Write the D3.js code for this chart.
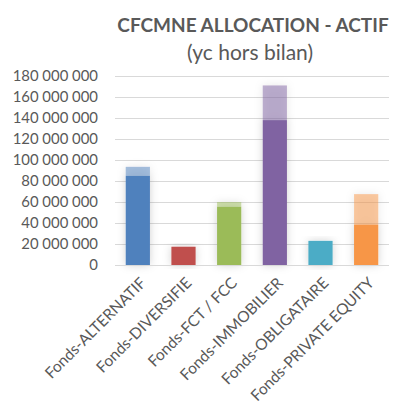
<!DOCTYPE html>
<html><head><meta charset="utf-8">
<script src="https://cdn.jsdelivr.net/npm/d3@7"></script>
<style>body{margin:0;background:#fff;} svg{display:block;font-family:Lato,"Open Sans",sans-serif;}</style>
</head><body>
<svg id="c" width="396" height="403"></svg>
<script>
const categories = ["Fonds-ALTERNATIF","Fonds-DIVERSIFIE","Fonds-FCT / FCC","Fonds-IMMOBILIER","Fonds-OBLIGATAIRE","Fonds-PRIVATE EQUITY"];
const actif = [85000000, 17400000, 55500000, 138000000, 23000000, 38500000];
const horsBilan = [8500000, 0, 4500000, 33000000, 0, 29000000];
const colors = ["#4F81BD","#C0504D","#9BBB59","#8064A2","#4BACC6","#F79646"];
const yTicks = [0,20000000,40000000,60000000,80000000,100000000,120000000,140000000,160000000,180000000];

const svg = d3.select("#c");
const x = d3.scaleBand().domain(categories).range([115,389]).paddingInner(0.47).paddingOuter(0.235);
const y = d3.scaleLinear().domain([0,180000000]).range([265,76]);

const defs = svg.append("defs");
const f = defs.append("filter").attr("id","sh").attr("x","-60%").attr("y","-20%").attr("width","220%").attr("height","140%");
f.append("feDropShadow").attr("dx",0).attr("dy",0).attr("stdDeviation",4).attr("flood-color","#000").attr("flood-opacity",0.18);

// title
svg.append("text").attr("x",253).attr("y",32).attr("text-anchor","middle")
  .attr("font-size",19).attr("font-weight","bold").attr("fill","#595959").text("CFCMNE ALLOCATION - ACTIF");
svg.append("text").attr("x",250).attr("y",60).attr("text-anchor","middle")
  .attr("font-size",21).attr("fill","#595959").text("(yc hors bilan)");

// grid
svg.append("g").selectAll("line").data(yTicks).join("line")
  .attr("x1",115).attr("x2",389).attr("y1",d=>Math.round(y(d))+0.5).attr("y2",d=>Math.round(y(d))+0.5)
  .attr("stroke","#d9d9d9").attr("stroke-width",1);

// y axis labels
const fmt = v => v===0 ? "0" : d3.format(",")(v).replace(/,/g," ");
const ya = svg.append("g").attr("transform","translate(98,0)")
  .call(d3.axisLeft(y).tickValues(yTicks).tickSize(0).tickPadding(0).tickFormat(fmt));
ya.select(".domain").remove();
ya.selectAll("text").attr("font-size",14.9).attr("fill","#595959").attr("font-family","Lato,'Open Sans',sans-serif");

// bars
const g = svg.append("g");
categories.forEach((c,i)=>{
  const bg = g.append("g").attr("filter","url(#sh)");
  bg.append("rect").attr("x",x(c)).attr("width",x.bandwidth())
    .attr("y",y(actif[i])).attr("height",y(0)-y(actif[i])).attr("fill",colors[i]);
  if (horsBilan[i]>0) {
    bg.append("rect").attr("x",x(c)).attr("width",x.bandwidth())
      .attr("y",y(actif[i]+horsBilan[i])).attr("height",y(actif[i])-y(actif[i]+horsBilan[i]))
      .attr("fill",colors[i]).attr("fill-opacity",0.5);
  }
});

// baseline
svg.append("line").attr("x1",115).attr("x2",389).attr("y1",265.5).attr("y2",265.5).attr("stroke","#d9d9d9");

// x labels
const xa = svg.append("g").attr("transform","translate(0,265)")
  .call(d3.axisBottom(x).tickSize(0).tickPadding(0));
xa.select(".domain").remove();
xa.selectAll("text").attr("font-size",15.5).attr("fill","#595959").attr("font-family","Lato,'Open Sans',sans-serif")
  .attr("text-anchor","end").attr("dy",0).attr("y",0)
  .attr("transform","translate(9,19) rotate(-45)");
</script>
</body></html>
